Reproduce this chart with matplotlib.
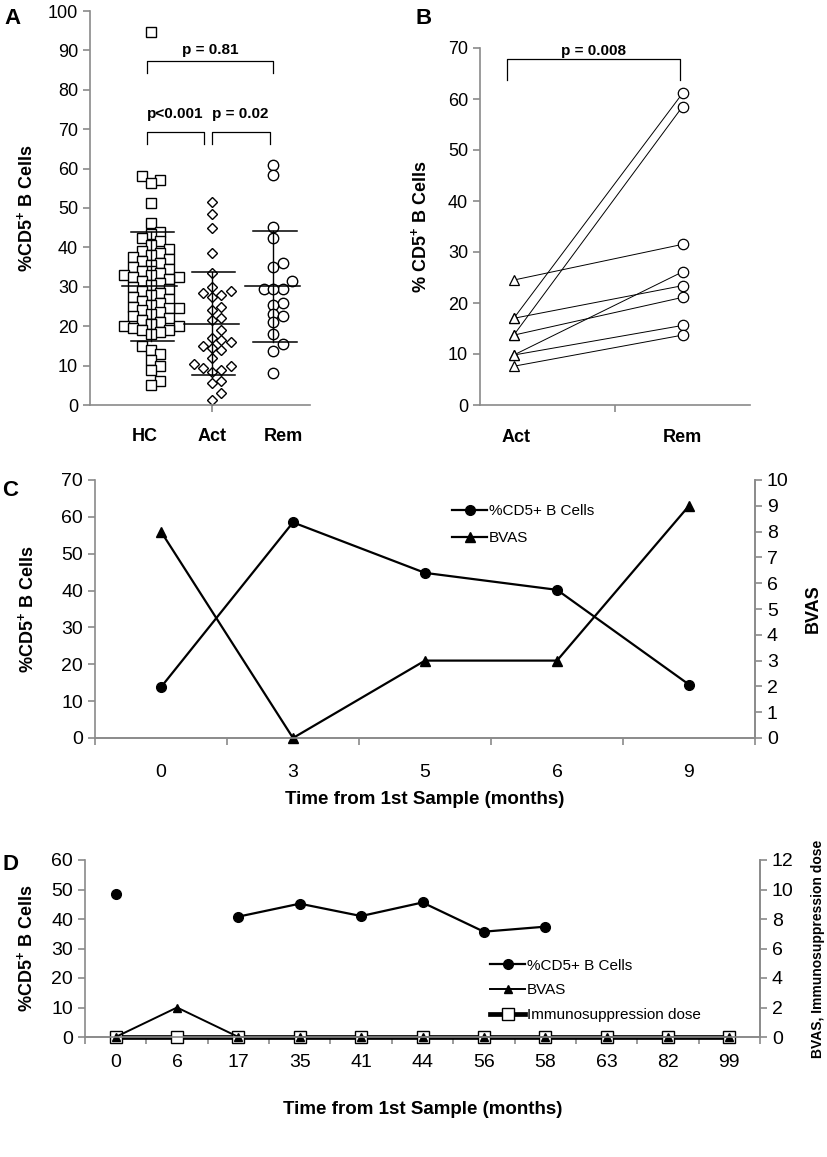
import numpy as np
import matplotlib
matplotlib.use("Agg")
import matplotlib.pyplot as plt

# ---------- data ----------
# panel A: %CD5+ B cells per group
hc = [94.6, 58.0, 57.0, 56.3, 51.2, 46.2, 44.0, 43.5, 42.5, 41.5, 40.5, 39.5,
      39.0, 38.5, 38.0, 37.5, 37.0, 36.5, 36.0, 35.5, 35.0, 34.5, 34.0, 34.0,
      33.5, 33.0, 33.0, 32.5, 32.5, 32.0, 31.5, 31.0, 30.5, 30.0, 29.5, 29.0,
      28.5, 28.0, 27.5, 27.0, 26.5, 26.0, 25.5, 25.0, 24.5, 24.5, 24.0, 23.5,
      23.0, 22.5, 22.0, 21.5, 21.0, 20.5, 20.5, 20.0, 20.0, 19.5, 19.0, 19.0,
      18.5, 18.0, 15.0, 14.0, 13.0, 11.5, 10.0, 9.0, 6.0, 5.0]
act = [51.6, 48.6, 45.0, 38.5, 33.5, 30.0, 29.0, 28.5, 28.0, 27.5, 25.0, 24.0,
       22.0, 21.5, 19.0, 17.0, 16.5, 16.0, 15.0, 14.5, 14.0, 12.0, 10.5, 10.0,
       9.5, 9.0, 8.5, 6.0, 5.5, 3.0, 1.2]
rem = [61.0, 58.5, 45.3, 42.5, 36.0, 35.0, 31.5, 29.5, 29.5, 29.5, 26.0, 25.5,
       23.2, 22.5, 21.0, 18.0, 15.5, 13.7, 8.1]
groups_a = ["HC", "Act", "Rem"]

# panel B: paired samples, active -> remission
pair_act = [24.5, 17.0, 17.0, 13.7, 13.7, 9.8, 9.8, 7.6]
pair_rem = [31.5, 61.1, 23.4, 58.5, 21.1, 26.1, 15.6, 13.7]

# panel C: single patient follow-up
months_c = ["0", "3", "5", "6", "9"]
cd5_c = [13.8, 58.5, 44.8, 40.2, 14.5]
bvas_c = [8, 0, 3, 3, 9]

# panel D: second patient follow-up
months_d = ["0", "6", "17", "35", "41", "44", "56", "58", "63", "82", "99"]
cd5_d = [48.5, np.nan, 40.8, 45.2, 41.0, 45.6, 35.7, 37.4, np.nan, np.nan, np.nan]
bvas_d = [0, 2, 0, 0, 0, 0, 0, 0, 0, 0, 0]
dose_d = [0, 0, 0, 0, 0, 0, 0, 0, 0, 0, 0]

# ---------- style ----------
plt.rcParams['font.family'] = ['Liberation Sans', 'DejaVu Sans']
plt.rcParams['mathtext.fontset'] = 'custom'
plt.rcParams['mathtext.rm'] = 'Liberation Sans'
plt.rcParams['mathtext.bf'] = 'Liberation Sans:bold'
GREY = '#8a8a8a'
YLAB = r"%CD5$^{\mathbf{+}}$ B Cells"

fig = plt.figure(figsize=(8.27, 11.57), dpi=100)


def style_axes(ax, right=False):
    for s in ['top', 'right']:
        ax.spines[s].set_visible(False)
    for s in ['left', 'bottom']:
        ax.spines[s].set_color(GREY)
        ax.spines[s].set_linewidth(1.2)
    if right:
        ax.spines['right'].set_visible(True)
        ax.spines['right'].set_color(GREY)
        ax.spines['right'].set_linewidth(1.2)
    ax.tick_params(colors=GREY, labelcolor='black', width=1.2, length=5,
                   direction='out')


def swarm(vals, step=0.15, gap=2.1):
    # simple beeswarm offsets so stacked markers sit side by side
    placed = []
    offs = np.zeros(len(vals))
    order = np.argsort(vals)
    cands = [0, 1, -1, 2, -2, 3, -3]
    for i in order:
        v = vals[i]
        for c in cands:
            if all(abs(v - pv) >= gap for pv, pc in placed if pc == c):
                offs[i] = c * step
                placed.append((v, c))
                break
    return offs


def bracket(ax, x0, x1, ytop, ybot, text, ty):
    ax.plot([x0, x0, x1, x1], [ybot, ytop, ytop, ybot], color='black', lw=0.9,
            clip_on=False)
    ax.text((x0 + x1) / 2, ty, text, ha='center', va='center',
            fontsize=11, fontweight='bold')


def cat_xaxis(ax, labels, pad):
    # category labels centred, tick marks on the category borders
    pos = np.arange(len(labels)) + 0.5
    ax.set_xlim(0, len(labels))
    ax.set_xticks(pos)
    ax.set_xticklabels(labels)
    ax.set_xticks(np.arange(len(labels) + 1), minor=True)
    ax.tick_params(axis='x', which='major', length=0, pad=pad)
    ax.tick_params(axis='x', which='minor', length=5, color=GREY, width=1.2)
    return pos


# ---------- panel A ----------
axA = fig.add_axes([90 / 827, 1 - 405 / 1157, 220 / 827, 394 / 1157])
style_axes(axA)
markers_a = ['s', 'D', 'o']
sizes_a = [7, 5.2, 7.5]
for i, (vals, m, ms) in enumerate(zip([hc, act, rem], markers_a, sizes_a)):
    vals = np.array(vals)
    xpos = i + 1 + swarm(vals)
    mean = vals.mean()
    sd = vals.std(ddof=1)
    axA.plot([i + 1, i + 1], [mean - sd, mean + sd], color='black', lw=1, zorder=3)
    axA.plot(xpos, vals, ls='none', marker=m, ms=ms, mfc='white', mec='black',
             mew=1, zorder=2)
    axA.plot([i + 1 - 0.47, i + 1 + 0.43], [mean, mean], color='black', lw=1.1, zorder=3)
    for y in (mean - sd, mean + sd):
        axA.plot([i + 1 - 0.33, i + 1 + 0.38], [y, y], color='black', lw=1.1, zorder=3)
axA.set_xlim(0, 3.6)
axA.set_ylim(0, 100)
axA.set_yticks(range(0, 101, 10))
axA.set_xticks([2])
axA.set_xticklabels([])
axA.tick_params(axis='y', labelsize=13)
for x, lab in zip([0.9, 2.0, 3.16], groups_a):
    axA.text(x, -8, lab, ha='center', va='center', fontsize=13,
             fontweight='bold')
axA.set_ylabel(YLAB, fontsize=13, fontweight='bold')
axA.yaxis.set_label_coords(-0.245, 0.5)
bracket(axA, 0.93, 3.0, 87.3, 84.3, "p = 0.81", 90.2)
bracket(axA, 0.93, 1.86, 69.3, 66.3, "p<0.001", 73.8)
bracket(axA, 1.99, 2.94, 69.3, 66.3, "p = 0.02", 73.8)

# ---------- panel B ----------
axB = fig.add_axes([480 / 827, 1 - 405 / 1157, 270 / 827, 357 / 1157])
style_axes(axB)
xa, xr = 0.25, 1.5
for a, r in zip(pair_act, pair_rem):
    axB.plot([xa, xr], [a, r], color='black', lw=0.7, zorder=1)
axB.plot([xa] * len(pair_act), pair_act, ls='none', marker='^', ms=7.5,
         mfc='white', mec='black', mew=0.9, zorder=2)
axB.plot([xr] * len(pair_rem), pair_rem, ls='none', marker='o', ms=7.5,
         mfc='white', mec='black', mew=0.9, zorder=2)
axB.set_xlim(0, 2)
axB.set_ylim(0, 70)
axB.set_yticks(range(0, 71, 10))
axB.set_xticks([1])
axB.set_xticklabels([])
axB.tick_params(axis='y', labelsize=13)
for x, lab in zip([0.27, 1.5], ["Act", "Rem"]):
    axB.text(x, -6.3, lab, ha='center', va='center', fontsize=13,
             fontweight='bold')
axB.set_ylabel("% " + YLAB[1:], fontsize=13, fontweight='bold')
axB.yaxis.set_label_coords(-0.185, 0.5)
bracket(axB, 0.2, 1.48, 67.8, 63.8, "p = 0.008", 69.5)

# ---------- panel C ----------
axC = fig.add_axes([95 / 827, 1 - 738 / 1157, 660 / 827, 258 / 1157])
style_axes(axC, right=True)
axC2 = axC.twinx()
style_axes(axC2, right=True)
axC2.spines['left'].set_visible(False)
xc = cat_xaxis(axC, months_c, pad=19)
l1, = axC.plot(xc, cd5_c, color='black', lw=1.6, marker='o', ms=7,
               label="%CD5+ B Cells")
l2, = axC2.plot(xc, bvas_c, color='black', lw=1.6, marker='^', ms=7,
                label="BVAS", clip_on=False)
axC.set_ylim(0, 70)
axC2.set_ylim(0, 10)
axC.set_yticks(range(0, 71, 10))
axC2.set_yticks(range(0, 11))
for ax in (axC, axC2):
    ax.tick_params(labelsize=14)
axC.set_xlabel("Time from 1st Sample (months)", fontsize=13.5,
               fontweight='bold')
axC.xaxis.set_label_coords(0.5, -0.205)
axC.set_ylabel(YLAB, fontsize=13, fontweight='bold')
axC.yaxis.set_label_coords(-0.088, 0.5)
axC2.set_ylabel("BVAS", fontsize=13, fontweight='bold')
axC2.yaxis.set_label_coords(1.075, 0.5)
axC2.legend(handles=[l1, l2], loc='upper left', bbox_to_anchor=(0.52, 0.96),
            frameon=False, handlelength=2.3, handletextpad=0.1,
            labelspacing=0.85, prop={'size': 11})

# ---------- panel D ----------
axD = fig.add_axes([85 / 827, 1 - 1037 / 1157, 675 / 827, 177 / 1157])
style_axes(axD, right=True)
axD2 = axD.twinx()
style_axes(axD2, right=True)
axD2.spines['left'].set_visible(False)
xd = cat_xaxis(axD, months_d, pad=12)
m1, = axD.plot(xd, cd5_d, color='black', lw=1.6, marker='o', ms=7,
               label="%CD5+ B Cells")
m3, = axD2.plot(xd, dose_d, color='black', lw=3.4, marker='s', ms=9,
                mfc='white', mec='black', mew=1, label="Immunosuppression dose",
                clip_on=False)
m2, = axD2.plot(xd, bvas_d, color='black', lw=1.4, marker='^', ms=6,
                label="BVAS", clip_on=False)
axD.set_ylim(0, 60)
axD2.set_ylim(0, 12)
axD.set_yticks(range(0, 61, 10))
axD2.set_yticks(range(0, 13, 2))
for ax in (axD, axD2):
    ax.tick_params(labelsize=14)
axD.set_xlabel("Time from 1st Sample (months)", fontsize=13.5,
               fontweight='bold')
axD.xaxis.set_label_coords(0.5, -0.36)
axD.set_ylabel(YLAB, fontsize=13, fontweight='bold')
axD.yaxis.set_label_coords(-0.073, 0.5)
axD2.set_ylabel("BVAS, Immunosuppression dose", fontsize=10, fontweight='bold')
axD2.yaxis.set_label_coords(1.075, 0.5)
axD2.legend(handles=[m1, m2, m3], loc='upper left', bbox_to_anchor=(0.58, 0.52),
            frameon=False, handlelength=2.3, handletextpad=0.1,
            labelspacing=0.7, prop={'size': 11})

# panel letters
for lab, x, y in [("A", 4, 18), ("B", 415, 18), ("C", 2, 490), ("D", 2, 864)]:
    fig.text(x / 827, 1 - y / 1157, lab, fontsize=16, fontweight='bold',
             ha='left', va='center')

fig.savefig("out.png", dpi=100)
